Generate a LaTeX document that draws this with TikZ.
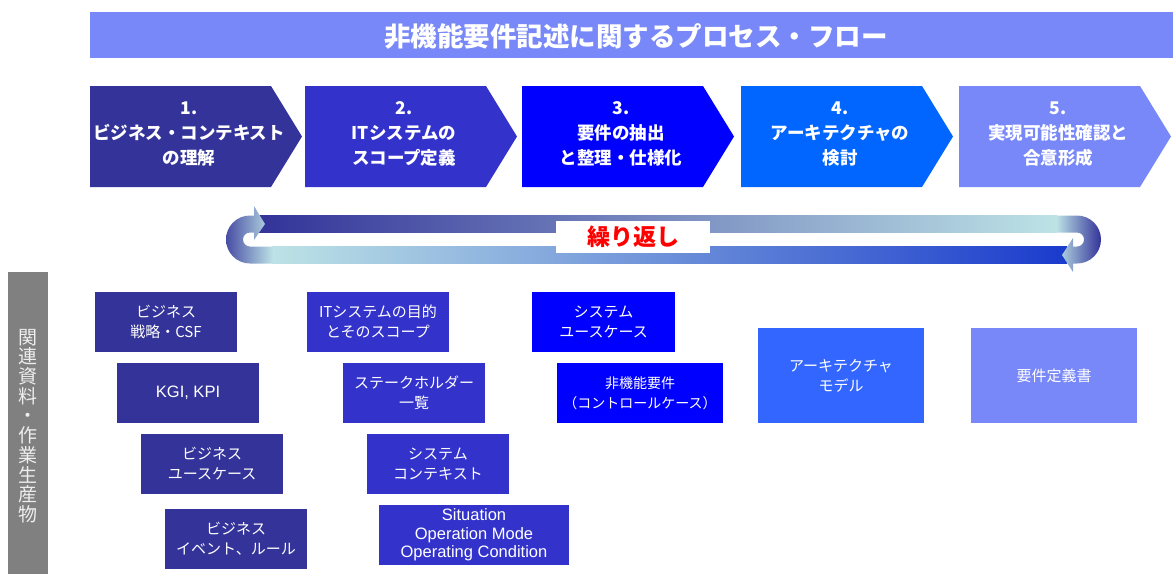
\documentclass[tikz,border=0pt]{standalone}
\usepackage{fontspec}
\setmainfont{Noto Sans CJK JP}
\newfontfamily\arialfont{Liberation Sans}
\definecolor{cA}{HTML}{333399}
\definecolor{cB}{HTML}{3333CC}
\definecolor{cC}{HTML}{0000FF}
\definecolor{cD}{HTML}{0066FF}
\definecolor{cDbox}{HTML}{3366FF}
\definecolor{cE}{HTML}{7888F8}
\definecolor{cyanL}{HTML}{BDE3E6}
\definecolor{blueR}{HTML}{1A3BCC}
\definecolor{barGray}{HTML}{808080}
\definecolor{barText}{HTML}{EEEEEE}
\begin{document}
\begin{tikzpicture}[x=1pt,y=-1pt,
  chevtext/.style={text=white, align=center, inner sep=0, font=\fontsize{17.5}{25}\selectfont\bfseries},
  abox/.style={rectangle, inner sep=0, align=center, text=white, minimum height=60pt, font=\fontsize{15}{20}\selectfont},
]
\useasboundingbox (0,0) rectangle (1173,574);
% title bar
\fill[cE] (90,12) rectangle (1173,58);
\node[text=white, inner sep=0, font=\fontsize{26.5}{30}\selectfont\bfseries] (title) at (636,36) {非機能要件記述に関するプロセス・フロー};
% chevrons
\fill[cA] (90,86) -- ++(181,0) -- ++(31,50.5) -- ++(-31,50.5) -- ++(-181,0) -- cycle;
\fill[cB] (305,86) -- ++(181,0) -- ++(31,50.5) -- ++(-31,50.5) -- ++(-181,0) -- cycle;
\fill[cC] (522,86) -- ++(181,0) -- ++(31,50.5) -- ++(-31,50.5) -- ++(-181,0) -- cycle;
\fill[cD] (741,86) -- ++(181,0) -- ++(31,50.5) -- ++(-31,50.5) -- ++(-181,0) -- cycle;
\fill[cE] (959,86) -- ++(181,0) -- ++(31,50.5) -- ++(-31,50.5) -- ++(-181,0) -- cycle;
\node[chevtext] (ch1) at (189,134) {1.\\ビジネス・コンテキスト\\の理解};
\node[chevtext] (ch2) at (404,134) {2.\\ITシステムの\\スコープ定義};
\node[chevtext] (ch3) at (621,134) {3.\\要件の抽出\\と整理・仕様化};
\node[chevtext] (ch4) at (840,134) {4.\\アーキテクチャの\\検討};
\node[chevtext] (ch5) at (1058,134) {5.\\実現可能性確認と\\合意形成};
% repeat loop bands
\shade[left color=cA, right color=cyanL] (259,215.5) rectangle (1057,232.5);
\shade[left color=cyanL, right color=blueR] (272,246.5) rectangle (1067,263.5);
% left curved arrow
\shade[left color=cA!85!cyanL, right color=cyanL]
  (273,263.5) -- (250,263.5) arc[start angle=90, end angle=270, radius=24]
  -- (254,215.5) -- (254,206) -- (265,224) -- (254,240) -- (254,232.5)
  -- (250,232.5) arc[start angle=270, end angle=90, radius=7]
  -- (273,246.5) -- cycle;
% right curved arrow
\shade[left color=cyanL, right color=cA]
  (1056,215.5) -- (1077,215.5) arc[start angle=270, end angle=450, radius=24]
  -- (1073,263.5) -- (1073,272) -- (1062,255) -- (1073,238) -- (1073,246.5)
  -- (1077,246.5) arc[start angle=90, end angle=-90, radius=7]
  -- (1056,232.5) -- cycle;
\node[fill=white, minimum width=154pt, minimum height=32pt, inner sep=0, text=red, font=\fontsize{23}{26}\selectfont\bfseries] (rep) at (633,237) {繰り返し};
% left gray bar
\fill[barGray] (8,272) rectangle (48,574);
\node[text=barText, align=center, inner sep=0, font=\fontsize{19}{19.7}\selectfont] (side) at (28,426) {関\\連\\資\\料\\・\\作\\業\\生\\産\\物};
% artefact boxes
\node[abox, fill=cA, minimum width=142pt] (b1) at (166,322) {ビジネス\\戦略・CSF};
\node[abox, fill=cA, minimum width=142pt, font=\arialfont\fontsize{16.5}{20}\selectfont] (b2) at (188,393) {KGI, KPI};
\node[abox, fill=cA, minimum width=142pt] (b3) at (212,464) {ビジネス\\ユースケース};
\node[abox, fill=cA, minimum width=142pt] (b4) at (236,539) {ビジネス\\イベント、ルール};
\node[abox, fill=cB, minimum width=142pt] (b5) at (378,322) {ITシステムの目的\\とそのスコープ};
\node[abox, fill=cB, minimum width=142pt] (b6) at (414,393) {ステークホルダー\\一覧};
\node[abox, fill=cB, minimum width=142pt] (b7) at (438,464) {システム\\コンテキスト};
\node[abox, fill=cB, minimum width=190pt, font=\arialfont\fontsize{16.5}{18.3}\selectfont] (b8) at (474,535) {Situation\\Operation Mode\\Operating Condition};
\node[abox, fill=cC, minimum width=143pt] (b9) at (603.5,322) {システム\\ユースケース};
\node[abox, fill=cC, minimum width=166pt, font=\fontsize{14}{20}\selectfont] (b10) at (640,393) {非機能要件\\（コントロールケース）};
\node[abox, fill=cDbox, minimum width=166pt, minimum height=95pt] (b11) at (841,375.5) {アーキテクチャ\\モデル};
\node[abox, fill=cE, minimum width=166pt, minimum height=95pt] (b12) at (1054,375.5) {要件定義書};
\end{tikzpicture}
\end{document}
